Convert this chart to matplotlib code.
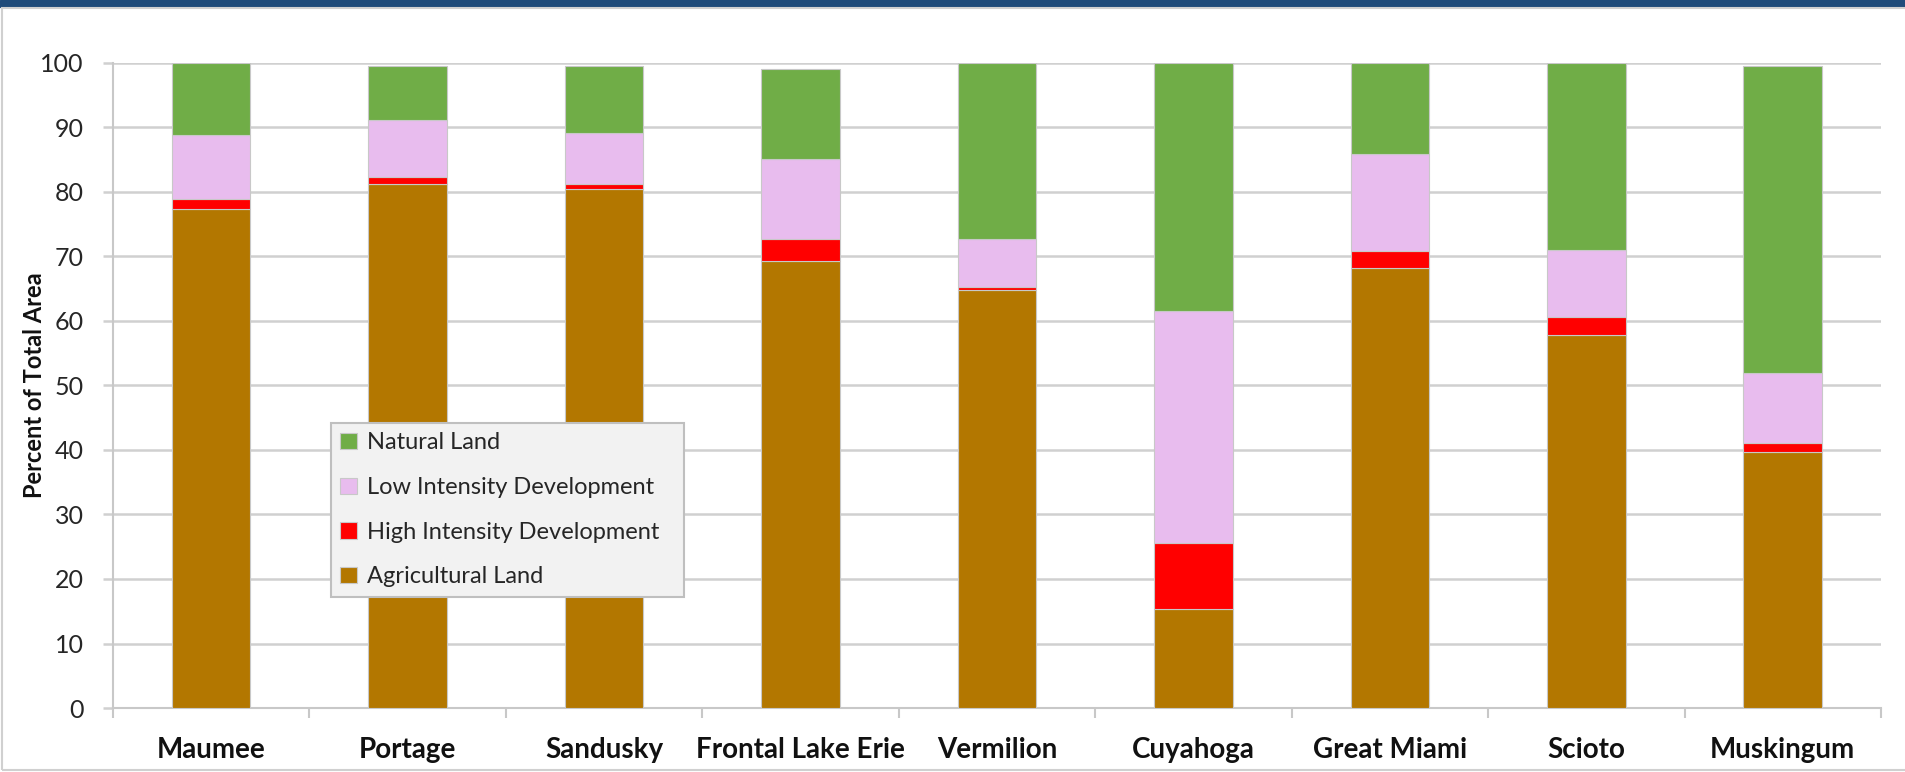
import matplotlib.pyplot as plt
from matplotlib.patches import Rectangle

# data (percent of total area)
basins = ['Maumee', 'Portage', 'Sandusky', 'Frontal Lake Erie', 'Vermilion',
          'Cuyahoga', 'Great Miami', 'Scioto', 'Muskingum']
agricultural = [77.4, 81.2, 80.4, 69.3, 64.8, 15.4, 68.2, 57.8, 39.7]
high_dev = [1.5, 1.1, 0.8, 3.4, 0.5, 10.2, 2.6, 2.8, 1.4]
low_dev = [10.0, 8.8, 7.9, 12.4, 7.4, 36.0, 15.1, 10.4, 10.9]
natural = [11.1, 8.5, 10.5, 14.0, 27.3, 38.4, 14.1, 29.0, 47.6]

plt.rcParams['font.family'] = ['Lato', 'DejaVu Sans']
plt.rcParams['text.color'] = '#262626'

fig = plt.figure(figsize=(19.05, 7.72), dpi=100)
ax = fig.add_axes([0.0593, 0.0829, 0.9281, 0.8355])

# top band and outer frame
fig.patches.append(Rectangle((0, 0.991), 1, 0.009, transform=fig.transFigure,
                             color='#1F4B7A', zorder=0))
fig.patches.append(Rectangle((0.001, 0.003), 1.2, 0.987, transform=fig.transFigure,
                             fill=False, edgecolor='#D0D0D0', lw=1.5, zorder=0))

x = range(len(basins))
w = 0.40
bottom = [0] * len(basins)
series = [(agricultural, '#B37700', 'Agricultural Land'),
          (high_dev, '#FF0000', 'High Intensity Development'),
          (low_dev, '#E8BCEE', 'Low Intensity Development'),
          (natural, '#70AD47', 'Natural Land')]
handles = []
for vals, col, name in series:
    b = ax.bar(x, vals, w, bottom=bottom, color=col, edgecolor='#C8C8C8',
               linewidth=0.8, label=name, zorder=3)
    handles.append(b)
    bottom = [p + q for p, q in zip(bottom, vals)]

ax.set_xlim(-0.5, len(basins) - 0.5)
ax.set_ylim(0, 100)
ax.set_yticks(range(0, 101, 10))
ax.yaxis.grid(True, color='#D0D0D0', lw=1.8, zorder=0)
ax.set_axisbelow(True)

ax.set_xticks(list(x))
ax.set_xticklabels(basins, fontsize=20, fontweight='bold', color='#111111')
ax.tick_params(axis='x', length=0, pad=21)
ax.set_xticks([i - 0.5 for i in range(len(basins) + 1)], minor=True)
ax.tick_params(axis='x', which='minor', length=7, width=1.5, color='#C8C8C8')
ax.tick_params(axis='y', length=7, width=1.8, color='#D0D0D0', labelsize=18,
               labelcolor='#262626', pad=14)

for s in ['top', 'right']:
    ax.spines[s].set_visible(False)
for s in ['left', 'bottom']:
    ax.spines[s].set_color('#C8C8C8')
    ax.spines[s].set_linewidth(1.5)

ax.set_ylabel('Percent of Total Area', fontsize=17, fontweight='bold', color='#111111')
ax.yaxis.set_label_coords(-0.038, 0.5)

leg = ax.legend(handles[::-1], [h.get_label() for h in handles[::-1]],
                loc='upper left', bbox_to_anchor=(0.1737, 0.2241, 0.1853, 0.228),
                bbox_transform=fig.transFigure, mode='expand', borderaxespad=0,
                fontsize=17, handlelength=0.7, handleheight=0.7, handletextpad=0.45,
                labelspacing=1.0, borderpad=0.4, fancybox=False, framealpha=1)
leg.get_frame().set_facecolor('#F2F2F2')
leg.get_frame().set_edgecolor('#BFBFBF')
leg.get_frame().set_linewidth(1.5)
leg.set_zorder(5)

fig.savefig('out.png', dpi=100)
